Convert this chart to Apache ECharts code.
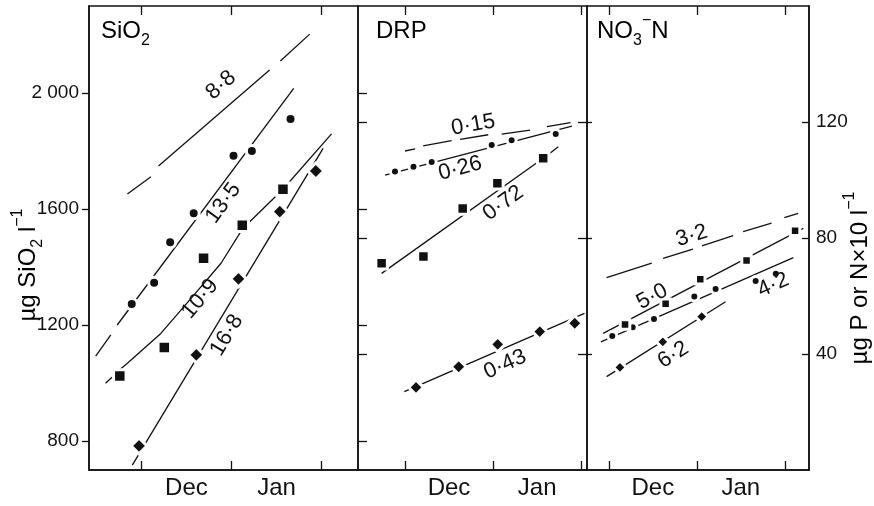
<!DOCTYPE html>
<html lang="en">
<head>
<meta charset="UTF-8">
<title>SiO2, DRP and NO3-N winter increase</title>
<style>
  html, body { margin: 0; padding: 0; background: #fff; }
  #chart { width: 874px; height: 506px; }
</style>
</head>
<body>
<div id="chart"></div>
<script src="https://cdn.jsdelivr.net/npm/echarts@6/dist/echarts.min.js"></script>
<script>
// x values are days counted from 1 Dec
const months = ['Dec', 'Jan'];
const monthTicks = [0, 31, 62];
const monthMid = [15.5, 46.5];
const siTicks = [800, 1200, 1600, 2000];
const siTickLabels = ['800', '1200', '1600', '2 000'];
const pnTicks = [40, 80, 120];

// SiO2 panel, µg SiO2 l-1
const siCircles = [[-3.3, 1272], [4.4, 1346], [9.9, 1485], [18.0, 1585], [31.7, 1784], [38.0, 1800], [51.3, 1910]];
const siSquares = [[-7.4, 1024], [7.9, 1122], [21.4, 1430], [34.7, 1544], [48.7, 1668]];
const siDiamonds = [[-0.8, 783], [18.9, 1097], [33.4, 1359], [47.6, 1591], [60.0, 1731]];
// fitted lines, null = break in the line
const siLine88 = [[-4.8, 1652], [3.3, 1711], null, [5.9, 1748], [44.1, 2079], null, [47.8, 2110], [57.9, 2203]];
const siLine135 = [[-15.7, 1093], [-10.5, 1166], null, [-8.3, 1200], [52.4, 2016]];
const siLine109 = [[-12.3, 999], [-10.1, 1020], null, [-8.4, 1038], [-4.8, 1068], [6.7, 1171], [17.1, 1292],
  [27.4, 1413], [34.9, 1533], [48.7, 1668], [65.4, 1859]];
const siLine168 = [[-3.1, 717], [62.5, 1809]];

// DRP panel, µg P l-1
const drpCircles = [[-3.5, 102.9], [3.0, 104.6], [9.4, 106.2], [30.5, 112.1], [37.5, 113.7], [53.0, 115.9]];
const drpSquares = [[-8.2, 71.3], [6.5, 73.6], [20.3, 90.2], [32.5, 98.9], [48.6, 107.5]];
const drpDiamonds = [[3.9, 28.5], [18.9, 35.6], [32.6, 43.3], [47.4, 47.7], [59.7, 50.6]];
const drpLine015 = [[0.0, 110.0], [3.6, 110.7], null, [6.4, 111.8], [16.4, 113.6], null, [19.4, 114.0], [29.3, 115.6],
  null, [34.0, 115.8], [44.0, 117.2], null, [49.9, 118.4], [58.2, 119.8]];
const drpLine026 = [[-7.0, 101.7], [58.7, 118.6]];
const drpLine072 = [[-8.2, 67.8], [48.6, 107.5], null, [50.2, 108.6], [53.9, 111.5]];
const drpLine043 = [[-0.2, 27.0], [63.1, 54.0]];

// NO3-N panel, µg N x 10 l-1
const noSquares = [[5.7, 50.2], [20.0, 57.3], [32.2, 65.8], [48.5, 72.2], [65.6, 82.5]];
const noCircles = [[1.2, 46.2], [8.4, 49.2], [15.9, 52.1], [30.1, 59.8], [37.6, 62.4], [51.7, 65.2], [58.8, 67.7]];
const noDiamonds = [[3.9, 35.4], [19.0, 44.2], [32.7, 52.9]];
const noLine32 = [[-0.8, 66.3], [15.1, 71.3], null, [19.1, 73.0], [29.6, 76.2], null, [32.8, 77.3], [43.8, 80.8],
  null, [47.3, 82.2], [57.3, 85.1], null, [61.8, 87.0], [66.7, 88.5]];
const noLine50 = [[-2.0, 47.1], [68.5, 83.3]];
const noLine42 = [[-2.8, 44.2], [65.0, 73.2]];
const noLine62 = [[-0.8, 32.2], [41.1, 58.0]];

// slope labels: panel, text, x, y, angle
const slopeLabels = [
  [0, '8·8', 27.4, 2027, 41], [0, '13·5', 28.2, 1620, 54], [0, '10·9', 20.2, 1290, 50], [0, '16·8', 29.4, 1165, 59],
  [1, '0·15', 24.0, 119.0, 10], [1, '0·26', 19.4, 104.0, 15], [1, '0·72', 34.6, 92.0, 36], [1, '0·43', 35.2, 36.4, 24],
  [2, '3·2', 29.2, 80.8, 17], [2, '5·0', 15.3, 59.8, 28], [2, '4·2', 57.9, 63.8, 24], [2, '6·2', 22.7, 39.7, 32]
];

const FONT = '"Liberation Sans", Arial, Helvetica, sans-serif';
const INK = '#111';
const SI_MIN = 700, SI_MAX = 2300, PN_MAX = 160;

const panels = [
  { left: 89, width: 269, xMin: -18, xMax: 74.5, y: 0 },
  { left: 358, width: 229, xMin: -16.5, xMax: 64, y: 1 },
  { left: 587, width: 222, xMin: -7.7, xMax: 70.5, y: 3 }
];

const grid = panels.map(p => ({
  left: p.left, width: p.width, top: 6, height: 464,
  show: true, borderColor: INK, borderWidth: 1.5, backgroundColor: 'transparent'
}));

const tickStyle = { color: INK, width: 1.3 };

const xAxis = [];
panels.forEach((p, i) => {
  xAxis.push({
    type: 'value', gridIndex: i, min: p.xMin, max: p.xMax, position: 'bottom',
    axisLine: { show: true, onZero: false, lineStyle: { color: INK, width: 1.5 } },
    axisTick: { show: true, inside: true, length: 9, customValues: monthTicks, lineStyle: tickStyle },
    axisLabel: {
      show: true, customValues: monthMid, margin: 6,
      formatter: v => months[monthMid.indexOf(v)],
      fontSize: 24, fontFamily: FONT, color: INK
    },
    splitLine: { show: false }
  });
  xAxis.push({
    type: 'value', gridIndex: i, min: p.xMin, max: p.xMax, position: 'top',
    axisLine: { show: false, onZero: false },
    axisTick: { show: true, inside: true, length: 9, customValues: monthTicks, lineStyle: tickStyle },
    axisLabel: { show: false },
    splitLine: { show: false }
  });
});

const midBorderTicks = pnTicks.concat(siTicks.map(v => (v - SI_MIN) / (SI_MAX - SI_MIN) * PN_MAX));

const yAxis = [
  {
    type: 'value', gridIndex: 0, min: SI_MIN, max: SI_MAX, position: 'left',
    axisLine: { show: true, onZero: false, lineStyle: { color: INK, width: 1.5 } },
    axisTick: { show: true, inside: false, length: 7, customValues: siTicks, lineStyle: tickStyle },
    axisLabel: {
      show: true, customValues: siTicks, margin: 10,
      formatter: v => siTickLabels[siTicks.indexOf(v)],
      fontSize: 19, fontFamily: FONT, color: INK
    },
    splitLine: { show: false }
  },
  {
    type: 'value', gridIndex: 1, min: 0, max: PN_MAX, position: 'left',
    axisLine: { show: false, onZero: false },
    axisTick: { show: true, inside: true, length: 9, customValues: midBorderTicks, lineStyle: tickStyle },
    axisLabel: { show: false }, splitLine: { show: false }
  },
  {
    type: 'value', gridIndex: 1, min: 0, max: PN_MAX, position: 'right',
    axisLine: { show: false, onZero: false },
    axisTick: { show: true, inside: true, length: 9, customValues: pnTicks, lineStyle: tickStyle },
    axisLabel: { show: false }, splitLine: { show: false }
  },
  {
    type: 'value', gridIndex: 2, min: 0, max: PN_MAX, position: 'left',
    axisLine: { show: false, onZero: false },
    axisTick: { show: true, inside: true, length: 5, customValues: pnTicks, lineStyle: tickStyle },
    axisLabel: { show: false }, splitLine: { show: false }
  },
  {
    type: 'value', gridIndex: 2, min: 0, max: PN_MAX, position: 'right',
    axisLine: { show: true, onZero: false, lineStyle: { color: INK, width: 1.5 } },
    axisTick: { show: true, inside: true, length: 7, customValues: pnTicks, lineStyle: tickStyle },
    axisLabel: {
      show: true, customValues: pnTicks, margin: 7,
      fontSize: 19, fontFamily: FONT, color: INK
    },
    splitLine: { show: false }
  }
];

const series = [];

function addLine(panel, pts) {
  let seg = [];
  const flush = () => {
    if (seg.length > 1) {
      series.push({
        type: 'line', xAxisIndex: panel * 2, yAxisIndex: panels[panel].y,
        data: seg, symbol: 'none', silent: true, z: 2,
        lineStyle: { color: INK, width: 1.3 }
      });
    }
    seg = [];
  };
  pts.forEach(d => { if (d === null) flush(); else seg.push(d); });
  flush();
}

function addPoints(panel, pts, symbol, size) {
  series.push({
    type: 'scatter', xAxisIndex: panel * 2, yAxisIndex: panels[panel].y,
    data: pts, symbol: symbol, symbolSize: size, silent: true, z: 3,
    itemStyle: { color: INK, borderColor: '#fff', borderWidth: 3, opacity: 1 }
  });
}

addLine(0, siLine88); addLine(0, siLine135); addLine(0, siLine109); addLine(0, siLine168);
addPoints(0, siCircles, 'circle', 11);
addPoints(0, siSquares, 'rect', 12.5);
addPoints(0, siDiamonds, 'diamond', 16);

addLine(1, drpLine015); addLine(1, drpLine026); addLine(1, drpLine072); addLine(1, drpLine043);
addPoints(1, drpCircles, 'circle', 9);
addPoints(1, drpSquares, 'rect', 11.5);
addPoints(1, drpDiamonds, 'diamond', 15);

addLine(2, noLine32); addLine(2, noLine50); addLine(2, noLine42); addLine(2, noLine62);
addPoints(2, noCircles, 'circle', 9);
addPoints(2, noSquares, 'rect', 9.5);
addPoints(2, noDiamonds, 'diamond', 13);

const slopeLabelStyle = {
  show: true, position: 'inside', fontSize: 22, fontFamily: FONT,
  color: INK, textBorderWidth: 0, opacity: 1
};

[0, 1, 2].forEach(panel => {
  series.push({
    type: 'scatter', xAxisIndex: panel * 2, yAxisIndex: panels[panel].y,
    symbol: 'circle', symbolSize: 0.1, silent: true, z: 5,
    itemStyle: { color: INK },
    data: slopeLabels.filter(l => l[0] === panel).map(l => ({
      value: [l[2], l[3]],
      label: Object.assign({}, slopeLabelStyle, { formatter: l[1], rotate: l[4] })
    })),
    label: slopeLabelStyle
  });
});

// rich text in a 36px line: main text centred, sub hangs from the bottom, sup sits at the top
const rich = {
  m: { fontSize: 24, lineHeight: 36, fontFamily: FONT, color: INK, verticalAlign: 'middle' },
  sub: { fontSize: 16, lineHeight: 36, fontFamily: FONT, color: INK, verticalAlign: 'bottom' },
  sup: { fontSize: 16, lineHeight: 36, fontFamily: FONT, color: INK, verticalAlign: 'top' }
};

function richText(x, y, text) {
  return {
    type: 'text', x: x, y: y, silent: true, z: 10,
    style: { text: text, rich: rich, align: 'left', verticalAlign: 'top' }
  };
}

const graphic = [
  richText(101, 13, '{m|SiO}{sub|2}'),
  richText(376, 13, '{m|DRP}'),
  richText(597, 13, '{m|NO}{sub|3}{sup|−}{m|N}'),
  {
    type: 'text', x: 28, y: 265, rotation: Math.PI / 2, silent: true, z: 10,
    style: { text: '{m|µg SiO}{sub|2}{m| l}{sup|−1}', rich: rich, align: 'center', verticalAlign: 'middle' }
  },
  {
    type: 'text', x: 860, y: 278, rotation: Math.PI / 2, silent: true, z: 10,
    style: { text: '{m|µg P or N×10 l}{sup|−1}', rich: rich, align: 'center', verticalAlign: 'middle' }
  }
];

const chart = echarts.init(document.getElementById('chart'));
chart.setOption({
  animation: false,
  backgroundColor: '#fff',
  textStyle: { fontFamily: FONT },
  grid: grid,
  xAxis: xAxis,
  yAxis: yAxis,
  series: series,
  graphic: graphic
});
</script>
</body>
</html>
